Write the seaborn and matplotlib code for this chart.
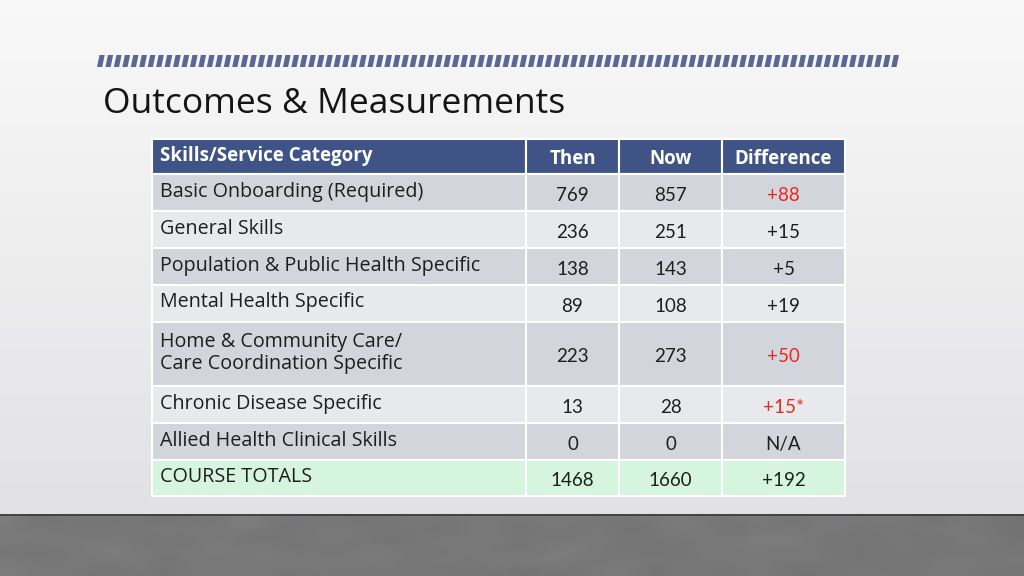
import numpy as np
import matplotlib
matplotlib.use("Agg")
import matplotlib.pyplot as plt
from matplotlib.patches import Rectangle, Polygon
import seaborn as sns

# ---- data ----
title = "Outcomes & Measurements"
headers = ["Skills/Service Category", "Then", "Now", "Difference"]
categories = [
    "Basic Onboarding (Required)",
    "General Skills",
    "Population & Public Health Specific",
    "Mental Health Specific",
    "Home & Community Care/\nCare Coordination Specific",
    "Chronic Disease Specific",
    "Allied Health Clinical Skills",
    "COURSE TOTALS",
]
then_vals = ["769", "236", "138", "89", "223", "13", "0", "1468"]
now_vals = ["857", "251", "143", "108", "273", "28", "0", "1660"]
diff_vals = ["+88", "+15", "+5", "+19", "+50", "+15*", "N/A", "+192"]
diff_highlight = [True, False, False, False, True, True, False, False]

sns.set_theme(style="white")
plt.rcParams['font.family'] = ['Lato', 'DejaVu Sans']

W, H = 1024, 576
fig = plt.figure(figsize=(W / 100, H / 100), dpi=100)
ax = fig.add_axes([0, 0, 1, 1])
ax.set_xlim(0, W)
ax.set_ylim(H, 0)
ax.axis("off")

# background gradient
grad = np.linspace(0, 1, 256)[:, None]
top = np.array([0.975, 0.975, 0.975])
bot = np.array([0.885, 0.885, 0.895])
bg = top + (bot - top) * grad[..., None]
ax.imshow(bg, extent=[0, W, 514, 0], aspect="auto", zorder=0)

# floor (smooth concrete-like)
rng = np.random.default_rng(3)
floor = 0.47 + 0.012 * rng.standard_normal((6, 40))
floor = np.clip(floor, 0, 1)
floor_rgb = np.stack([floor, floor, floor * 1.01], axis=-1).clip(0, 1)
ax.imshow(floor_rgb, extent=[0, W, H, 514], aspect="auto", zorder=0, interpolation="bicubic")
ax.plot([0, W], [514.5, 514.5], color="#3a3a3a", lw=1.2, zorder=1)

# dashed stripe bar
stripe_col = "#5a6994"
x0, x1, y0, y1 = 97, 902, 55, 67
period = 8.45
sw = 5.2
slant = 2.5
xs = np.arange(x0, x1 - sw, period)
for xx in xs:
    ax.add_patch(Polygon([[xx, y1], [xx + sw, y1], [xx + sw + slant, y0], [xx + slant, y0]],
                         closed=True, facecolor=stripe_col, edgecolor="none", zorder=2))

# title
ax.text(103, 104, title, fontsize=25.5, color="#141414", va="center", ha="left",
        family=["Open Sans", "DejaVu Sans"], zorder=3)

# table
col_edges = [152, 526, 619, 722, 845]
header_h = 35
row_heights = [37 if "\n" not in c else 64 for c in categories]
row_heights[-1] = 36
y = 139
header_col = "#3f5387"
dark_row = "#d3d5dd"
light_row = "#e8e9ed"
total_row = "#d5f5de"
red = "#e62a1e"
txt = "#1e1e1e"
fs = 13.5
cat_font = ["Open Sans", "DejaVu Sans"]

for j, h in enumerate(headers):
    ax.add_patch(Rectangle((col_edges[j], y), col_edges[j + 1] - col_edges[j], header_h,
                           facecolor=header_col, edgecolor="white", lw=1.5, zorder=3))
    if j == 0:
        ax.text(col_edges[0] + 8, y + header_h / 2 - 1, h, color="white", fontsize=13.5,
                fontweight="bold", ha="left", va="center", zorder=4, family=cat_font)
    else:
        ax.text((col_edges[j] + col_edges[j + 1]) / 2, y + header_h / 2 + 3, h, color="white",
                fontsize=13.5, fontweight="bold", ha="center", va="center", zorder=4,
                family=cat_font)
y += header_h

for i, cat in enumerate(categories):
    rh = row_heights[i]
    if i == len(categories) - 1:
        fc = total_row
    else:
        fc = dark_row if i % 2 == 0 else light_row
    for j in range(4):
        ax.add_patch(Rectangle((col_edges[j], y), col_edges[j + 1] - col_edges[j], rh,
                               facecolor=fc, edgecolor="white", lw=1.5, zorder=3))
    ax.text(col_edges[0] + 8, y + rh / 2 - 1, cat, color=txt, fontsize=14.2, ha="left",
            va="center", linespacing=1.15, zorder=4, family=cat_font)
    vals = [then_vals[i], now_vals[i], diff_vals[i]]
    for j, v in enumerate(vals):
        c = red if (j == 2 and diff_highlight[i]) else txt
        ax.text((col_edges[j + 1] + col_edges[j + 2]) / 2, y + rh / 2 + 3, v, color=c,
                fontsize=fs, ha="center", va="center", zorder=4)
    y += rh

fig.savefig("out.png", dpi=100)
